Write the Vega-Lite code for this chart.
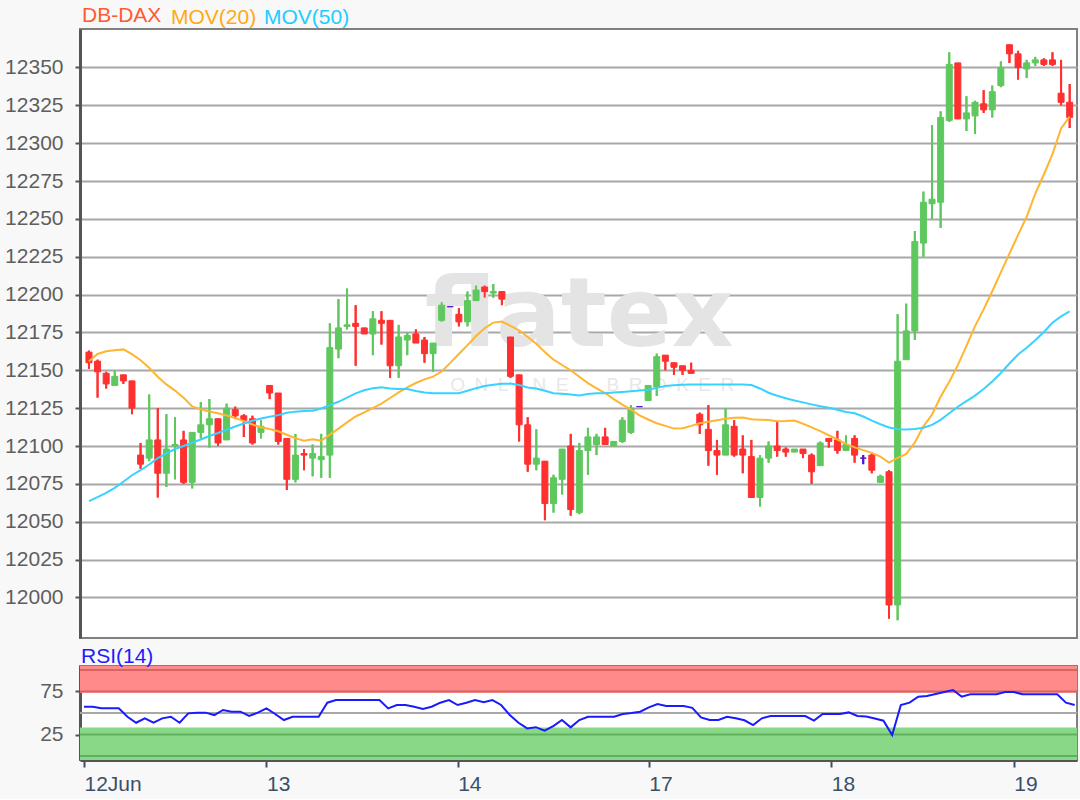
{
  "$schema": "https://vega.github.io/schema/vega-lite/v6.json",
  "background": "#f8f8f8",
  "padding": {"left": 3, "top": 3, "right": 2, "bottom": 4},
  "config": {
    "font": "Liberation Sans",
    "view": {"stroke": "#808080", "strokeWidth": 2, "fill": "white"},
    "axis": {"labelFont": "Liberation Sans", "labelFontSize": 21, "labelColor": "#5e5e5e", "tickColor": "#555555", "tickWidth": 2, "tickSize": 5, "labelPadding": 12, "domainColor": "#555555", "domainWidth": 3, "title": null},
    "title": {"font": "Liberation Sans", "fontSize": 21, "fontWeight": "normal", "anchor": "start", "frame": "group"},
    "concat": {"spacing": 6}
  },
  "datasets": {
    "bars": [
      {"t":0,"o":12162,"h":12163,"l":12151,"c":12155,"m20":12156,"m50":12063.6,"rsi":57.3},
      {"t":1,"o":12156,"h":12157,"l":12132,"c":12149,"m20":12160.8,"m50":12066.3,"rsi":57.3},
      {"t":2,"o":12148,"h":12149,"l":12138,"c":12141,"m20":12162.6,"m50":12069.1,"rsi":55.4},
      {"t":3,"o":12140,"h":12150,"l":12140,"c":12146,"m20":12163.2,"m50":12072.4,"rsi":55.4},
      {"t":4,"o":12147,"h":12147,"l":12141,"c":12143,"m20":12163.8,"m50":12076.4,"rsi":55.4},
      {"t":5,"o":12143,"h":12143,"l":12121,"c":12125,"m20":12160.7,"m50":12080.7,"rsi":45.7},
      {"t":6,"o":12094,"h":12102,"l":12085,"c":12088,"m20":12156.6,"m50":12084,"rsi":38.7},
      {"t":7,"o":12092,"h":12134,"l":12090,"c":12104,"m20":12151.7,"m50":12087.8,"rsi":43.8},
      {"t":8,"o":12104,"h":12125,"l":12066,"c":12082,"m20":12145.7,"m50":12092,"rsi":38.7},
      {"t":9,"o":12082,"h":12121,"l":12073,"c":12098,"m20":12140.7,"m50":12095.2,"rsi":43.8},
      {"t":10,"o":12100,"h":12119,"l":12078,"c":12101,"m20":12136.6,"m50":12098,"rsi":45.7},
      {"t":11,"o":12104,"h":12110,"l":12075,"c":12076,"m20":12131.8,"m50":12100,"rsi":38.7},
      {"t":12,"o":12076,"h":12109,"l":12072,"c":12109,"m20":12126.1,"m50":12102.2,"rsi":49.6},
      {"t":13,"o":12109,"h":12129,"l":12105,"c":12114,"m20":12124.2,"m50":12104.3,"rsi":50.4},
      {"t":14,"o":12114,"h":12131,"l":12099,"c":12118,"m20":12122.8,"m50":12106.6,"rsi":50.4},
      {"t":15,"o":12118,"h":12118,"l":12100,"c":12102,"m20":12121.6,"m50":12108.6,"rsi":47.6},
      {"t":16,"o":12104,"h":12128,"l":12104,"c":12125,"m20":12120.2,"m50":12110.7,"rsi":53.5},
      {"t":17,"o":12124,"h":12126,"l":12118,"c":12120,"m20":12118.5,"m50":12112.9,"rsi":51.5},
      {"t":18,"o":12120,"h":12121,"l":12106,"c":12117,"m20":12116.4,"m50":12114.9,"rsi":51.5},
      {"t":19,"o":12118,"h":12120,"l":12101,"c":12102,"m20":12114.2,"m50":12116.7,"rsi":46.5},
      {"t":20,"o":12109,"h":12117,"l":12105,"c":12113,"m20":12112.4,"m50":12118.1,"rsi":50.4},
      {"t":21,"o":12140,"h":12140,"l":12131,"c":12135,"m20":12111.2,"m50":12119.3,"rsi":55.4},
      {"t":22,"o":12135,"h":12135,"l":12101,"c":12103,"m20":12109.7,"m50":12120.4,"rsi":48.8},
      {"t":23,"o":12105,"h":12105,"l":12071,"c":12078,"m20":12107.4,"m50":12121.9,"rsi":41.8},
      {"t":24,"o":12078,"h":12108,"l":12076,"c":12094,"m20":12105.1,"m50":12122.7,"rsi":45.7},
      {"t":25,"o":12095,"h":12098,"l":12084,"c":12094,"m20":12103.5,"m50":12123.1,"rsi":45.7},
      {"t":26,"o":12092,"h":12101,"l":12080,"c":12095,"m20":12104.5,"m50":12123.3,"rsi":45.7},
      {"t":27,"o":12091,"h":12108,"l":12079,"c":12093,"m20":12103.5,"m50":12124.8,"rsi":45.7},
      {"t":28,"o":12094,"h":12181,"l":12079,"c":12165,"m20":12107.5,"m50":12127,"rsi":62},
      {"t":29,"o":12164,"h":12197,"l":12158,"c":12178,"m20":12111.5,"m50":12129.2,"rsi":65.1},
      {"t":30,"o":12179,"h":12204,"l":12177,"c":12180,"m20":12115.6,"m50":12132,"rsi":65.1},
      {"t":31,"o":12181,"h":12193,"l":12153,"c":12179,"m20":12119.5,"m50":12134.8,"rsi":65.1},
      {"t":32,"o":12178,"h":12178,"l":12174,"c":12174,"m20":12122.2,"m50":12136.8,"rsi":65.1},
      {"t":33,"o":12174,"h":12189,"l":12160,"c":12184,"m20":12125,"m50":12138.1,"rsi":65.1},
      {"t":34,"o":12183,"h":12189,"l":12167,"c":12181,"m20":12128,"m50":12138.8,"rsi":65.1},
      {"t":35,"o":12183,"h":12183,"l":12145,"c":12153,"m20":12131.7,"m50":12138,"rsi":55.4},
      {"t":36,"o":12153,"h":12180,"l":12145,"c":12172,"m20":12135.4,"m50":12137.7,"rsi":59.3},
      {"t":37,"o":12170,"h":12175,"l":12160,"c":12173,"m20":12138.7,"m50":12137.7,"rsi":59.3},
      {"t":38,"o":12174,"h":12177,"l":12168,"c":12168,"m20":12141.6,"m50":12136.3,"rsi":57.3},
      {"t":39,"o":12170,"h":12172,"l":12155,"c":12161,"m20":12144,"m50":12135.3,"rsi":54.6},
      {"t":40,"o":12161,"h":12168,"l":12149,"c":12168,"m20":12145.8,"m50":12134.9,"rsi":57.3},
      {"t":41,"o":12183,"h":12195,"l":12182,"c":12193,"m20":12149.2,"m50":12134.9,"rsi":62},
      {"t":42,"o":12192,"h":12192,"l":12192,"c":12192,"m20":12154.9,"m50":12134.9,"rsi":65.1},
      {"t":43,"o":12187,"h":12191,"l":12179,"c":12182,"m20":12160.8,"m50":12134.9,"rsi":59.3},
      {"t":44,"o":12182,"h":12202,"l":12179,"c":12196,"m20":12166.6,"m50":12136.5,"rsi":62},
      {"t":45,"o":12196,"h":12206,"l":12196,"c":12203,"m20":12172.6,"m50":12138.2,"rsi":65.1},
      {"t":46,"o":12205,"h":12206,"l":12198,"c":12202,"m20":12177.8,"m50":12139.6,"rsi":62.4},
      {"t":47,"o":12201,"h":12207,"l":12198,"c":12202,"m20":12181.5,"m50":12140.4,"rsi":65.1},
      {"t":48,"o":12202,"h":12202,"l":12193,"c":12197,"m20":12182.2,"m50":12141.1,"rsi":59.3},
      {"t":49,"o":12172,"h":12172,"l":12145,"c":12146,"m20":12179.3,"m50":12141.2,"rsi":47.6},
      {"t":50,"o":12147,"h":12147,"l":12103,"c":12114,"m20":12176.4,"m50":12140.3,"rsi":38.7},
      {"t":51,"o":12114,"h":12119,"l":12083,"c":12088,"m20":12172,"m50":12138.7,"rsi":32.1},
      {"t":52,"o":12088,"h":12111,"l":12084,"c":12092,"m20":12167.5,"m50":12138,"rsi":33.5},
      {"t":53,"o":12090,"h":12090,"l":12051,"c":12062,"m20":12162,"m50":12136.5,"rsi":29.4},
      {"t":54,"o":12062,"h":12081,"l":12056,"c":12079,"m20":12157,"m50":12134.9,"rsi":34.8},
      {"t":55,"o":12078,"h":12098,"l":12068,"c":12098,"m20":12153.5,"m50":12134.5,"rsi":41.8},
      {"t":56,"o":12100,"h":12108,"l":12054,"c":12058,"m20":12150,"m50":12134,"rsi":33.3},
      {"t":57,"o":12056,"h":12102,"l":12055,"c":12097,"m20":12145.7,"m50":12133.4,"rsi":41.8},
      {"t":58,"o":12097,"h":12112,"l":12081,"c":12106,"m20":12141.5,"m50":12134.4,"rsi":45.7},
      {"t":59,"o":12101,"h":12108,"l":12094,"c":12106,"m20":12138,"m50":12134.9,"rsi":45.7},
      {"t":60,"o":12106,"h":12112,"l":12101,"c":12101,"m20":12135,"m50":12134.9,"rsi":45.7},
      {"t":61,"o":12100,"h":12103,"l":12100,"c":12103,"m20":12131,"m50":12135.3,"rsi":45.7},
      {"t":62,"o":12103,"h":12119,"l":12102,"c":12117,"m20":12127.3,"m50":12135.7,"rsi":48.8},
      {"t":63,"o":12109,"h":12127,"l":12108,"c":12125,"m20":12124,"m50":12136.2,"rsi":50},
      {"t":64,"o":12126,"h":12126,"l":12126,"c":12126,"m20":12120.2,"m50":12136.6,"rsi":51.5},
      {"t":65,"o":12130,"h":12140,"l":12130,"c":12140,"m20":12117.5,"m50":12137.1,"rsi":56.6},
      {"t":66,"o":12139,"h":12161,"l":12133,"c":12159,"m20":12115,"m50":12138.4,"rsi":60.4},
      {"t":67,"o":12160,"h":12160,"l":12150,"c":12156,"m20":12113.3,"m50":12139.6,"rsi":58.1},
      {"t":68,"o":12155,"h":12155,"l":12147,"c":12152,"m20":12111.5,"m50":12140.2,"rsi":58.1},
      {"t":69,"o":12153,"h":12153,"l":12147,"c":12150,"m20":12111.8,"m50":12140.5,"rsi":58.1},
      {"t":70,"o":12150,"h":12155,"l":12148,"c":12148,"m20":12113.3,"m50":12140.6,"rsi":56},
      {"t":71,"o":12121,"h":12122,"l":12108,"c":12114,"m20":12115,"m50":12140.6,"rsi":44.9},
      {"t":72,"o":12111,"h":12127,"l":12087,"c":12097,"m20":12116,"m50":12140.6,"rsi":41.8},
      {"t":73,"o":12097,"h":12104,"l":12081,"c":12094,"m20":12117,"m50":12140.6,"rsi":41.8},
      {"t":74,"o":12094,"h":12125,"l":12094,"c":12114,"m20":12118,"m50":12140.6,"rsi":45.7},
      {"t":75,"o":12113,"h":12117,"l":12093,"c":12094,"m20":12118.7,"m50":12140.6,"rsi":43.8},
      {"t":76,"o":12098,"h":12107,"l":12082,"c":12094,"m20":12118.8,"m50":12140.6,"rsi":41.5},
      {"t":77,"o":12093,"h":12104,"l":12066,"c":12066,"m20":12117.7,"m50":12140.3,"rsi":36},
      {"t":78,"o":12066,"h":12094,"l":12060,"c":12092,"m20":12117.4,"m50":12138,"rsi":43.8},
      {"t":79,"o":12092,"h":12103,"l":12089,"c":12100,"m20":12117.2,"m50":12135.2,"rsi":46.5},
      {"t":80,"o":12100,"h":12116,"l":12093,"c":12097,"m20":12116.4,"m50":12133.2,"rsi":46.5},
      {"t":81,"o":12098,"h":12099,"l":12093,"c":12096,"m20":12116.5,"m50":12131.5,"rsi":46.5},
      {"t":82,"o":12096,"h":12098,"l":12096,"c":12098,"m20":12116.8,"m50":12130.1,"rsi":46.5},
      {"t":83,"o":12098,"h":12098,"l":12092,"c":12095,"m20":12114.7,"m50":12128.8,"rsi":46.5},
      {"t":84,"o":12094,"h":12095,"l":12075,"c":12083,"m20":12112.3,"m50":12127.5,"rsi":41.1},
      {"t":85,"o":12087,"h":12103,"l":12087,"c":12102,"m20":12109.8,"m50":12126.3,"rsi":48.8},
      {"t":86,"o":12105,"h":12105,"l":12099,"c":12103,"m20":12107.1,"m50":12125.2,"rsi":48.8},
      {"t":87,"o":12104,"h":12110,"l":12095,"c":12097,"m20":12104.3,"m50":12123.9,"rsi":48.8},
      {"t":88,"o":12097,"h":12107,"l":12097,"c":12101,"m20":12101.4,"m50":12122.4,"rsi":50.7},
      {"t":89,"o":12105,"h":12107,"l":12089,"c":12094,"m20":12099.1,"m50":12121.6,"rsi":46.5},
      {"t":90,"o":12092,"h":12094,"l":12088,"c":12092,"m20":12097.3,"m50":12119.5,"rsi":46},
      {"t":91,"o":12094,"h":12095,"l":12082,"c":12084,"m20":12095.5,"m50":12116.8,"rsi":43.5},
      {"t":92,"o":12076,"h":12081,"l":12076,"c":12080,"m20":12093,"m50":12114.4,"rsi":41.1},
      {"t":93,"o":12083,"h":12084,"l":11986,"c":11995,"m20":12089,"m50":12112.2,"rsi":24.4},
      {"t":94,"o":11995,"h":12187,"l":11985,"c":12156,"m20":12092.2,"m50":12111.1,"rsi":59.3},
      {"t":95,"o":12157,"h":12194,"l":12157,"c":12176,"m20":12094.8,"m50":12110.9,"rsi":62},
      {"t":96,"o":12176,"h":12242,"l":12170,"c":12235,"m20":12102.3,"m50":12111.2,"rsi":69},
      {"t":97,"o":12234,"h":12268,"l":12225,"c":12261,"m20":12113,"m50":12112.1,"rsi":69.7},
      {"t":98,"o":12260,"h":12312,"l":12250,"c":12263,"m20":12120.8,"m50":12113.9,"rsi":72},
      {"t":99,"o":12261,"h":12321,"l":12244,"c":12317,"m20":12132.5,"m50":12117.3,"rsi":74.5},
      {"t":100,"o":12315,"h":12360,"l":12314,"c":12352,"m20":12142.5,"m50":12121.6,"rsi":76.7},
      {"t":101,"o":12353,"h":12353,"l":12316,"c":12316,"m20":12153.4,"m50":12125.9,"rsi":69},
      {"t":102,"o":12316,"h":12331,"l":12308,"c":12320,"m20":12166.1,"m50":12129.6,"rsi":71.7},
      {"t":103,"o":12318,"h":12328,"l":12306,"c":12327,"m20":12179.2,"m50":12133.3,"rsi":71.7},
      {"t":104,"o":12326,"h":12335,"l":12320,"c":12322,"m20":12190.2,"m50":12137.6,"rsi":71.7},
      {"t":105,"o":12322,"h":12338,"l":12317,"c":12334,"m20":12202.2,"m50":12142.6,"rsi":71.7},
      {"t":106,"o":12338,"h":12354,"l":12337,"c":12350,"m20":12214.7,"m50":12148.2,"rsi":74.4},
      {"t":107,"o":12365,"h":12365,"l":12353,"c":12359,"m20":12227.1,"m50":12154.5,"rsi":74.4},
      {"t":108,"o":12359,"h":12361,"l":12342,"c":12350,"m20":12239.4,"m50":12160.4,"rsi":71.7},
      {"t":109,"o":12349,"h":12355,"l":12343,"c":12353,"m20":12251.4,"m50":12164.9,"rsi":71.7},
      {"t":110,"o":12353,"h":12357,"l":12351,"c":12355,"m20":12266.7,"m50":12169.9,"rsi":71.7},
      {"t":111,"o":12355,"h":12356,"l":12351,"c":12352,"m20":12279.3,"m50":12175.3,"rsi":71.7},
      {"t":112,"o":12355,"h":12360,"l":12351,"c":12352,"m20":12292.8,"m50":12181.4,"rsi":71.7},
      {"t":113,"o":12333,"h":12355,"l":12325,"c":12327,"m20":12309.7,"m50":12185.6,"rsi":62},
      {"t":114,"o":12327,"h":12339,"l":12310,"c":12317,"m20":12317.5,"m50":12188.9,"rsi":59.3}
    ]
  },
  "vconcat": [
    {
      "width": 997,
      "height": 609,
      "title": {"text": "DB-DAX", "color": "#ff5a32", "offset": 3.5, "dx": 2},
      "data": {"name": "bars"},
      "layer": [
        {
          "mark": {"type": "rule", "strokeWidth": 2},
          "encoding": {
            "x": {"field": "t", "type": "quantitative", "scale": {"domain": [-0.46, 114.27], "nice": false, "zero": false}, "axis": null},
            "y": {"field": "l", "type": "quantitative", "scale": {"domain": [11973.2, 12375.4], "nice": false, "zero": false},
                  "axis": {"values": [12000, 12025, 12050, 12075, 12100, 12125, 12150, 12175, 12200, 12225, 12250, 12275, 12300, 12325, 12350], "format": "d", "grid": true, "gridColor": "#a8a8a8", "gridWidth": 2}},
            "y2": {"field": "h"},
            "color": {"condition": [{"test": "datum.c > datum.o", "value": "#5ec85e"}, {"test": "datum.c < datum.o", "value": "#ff3030"}], "value": "#4a1ccc"}
          }
        },
        {
          "data": {"values": [{}]},
          "mark": {"type": "text", "text": "flatex", "font": "DejaVu Sans", "fontWeight": "bold", "fontSize": 96, "color": "#e4e4e4", "baseline": "alphabetic", "align": "center"},
          "encoding": {
            "x": {"datum": 57, "type": "quantitative"},
            "y": {"datum": 12166, "type": "quantitative"}
          }
        },
        {
          "data": {"values": [{}]},
          "mark": {"type": "text", "text": "O\u2002N\u2002L\u2002I\u2002N\u2002E\u2003\u2003B\u2002R\u2002O\u2002K\u2002E\u2002R", "font": "Liberation Sans", "fontSize": 19, "color": "#e8e8e8", "baseline": "middle", "align": "center"},
          "encoding": {
            "x": {"datum": 58.5, "type": "quantitative"},
            "y": {"datum": 12140, "type": "quantitative"}
          }
        },
        {
          "mark": {"type": "rule", "strokeWidth": 2},
          "encoding": {
            "x": {"field": "t", "type": "quantitative"},
            "y": {"field": "l", "type": "quantitative"},
            "y2": {"field": "h"},
            "color": {"condition": [{"test": "datum.c > datum.o", "value": "#5ec85e"}, {"test": "datum.c < datum.o", "value": "#ff3030"}], "value": "#4a1ccc"}
          }
        },
        {
          "mark": {"type": "bar", "size": 6, "strokeWidth": 1},
          "encoding": {
            "x": {"field": "t", "type": "quantitative"},
            "y": {"field": "o", "type": "quantitative"},
            "y2": {"field": "c"},
            "fill": {"condition": [{"test": "datum.c > datum.o", "value": "#5ec85e"}, {"test": "datum.c < datum.o", "value": "#ff3030"}], "value": "#4a1ccc"},
            "stroke": {"condition": [{"test": "datum.c > datum.o", "value": "#5ec85e"}, {"test": "datum.c < datum.o", "value": "#ff3030"}], "value": "#4a1ccc"}
          }
        },
        {
          "mark": {"type": "line", "strokeWidth": 2},
          "encoding": {
            "x": {"field": "t", "type": "quantitative"},
            "y": {"field": "m20", "type": "quantitative"},
            "color": {"datum": "MOV(20)", "type": "nominal", "scale": {"range": ["#ffb530"]},
                      "legend": {"orient": "none", "legendX": 70, "legendY": -22, "title": null, "labelFontSize": 21, "labelFont": "Liberation Sans", "labelColor": "#ffaa14", "symbolSize": 0, "symbolStrokeWidth": 0, "symbolOpacity": 0, "labelOffset": 0, "padding": 0}}
          }
        },
        {
          "mark": {"type": "line", "strokeWidth": 2},
          "encoding": {
            "x": {"field": "t", "type": "quantitative"},
            "y": {"field": "m50", "type": "quantitative"},
            "stroke": {"datum": "MOV(50)", "type": "nominal", "scale": {"range": ["#38d2ff"]},
                       "legend": {"orient": "none", "legendX": 163, "legendY": -22, "title": null, "labelFontSize": 21, "labelFont": "Liberation Sans", "labelColor": "#22ccff", "symbolSize": 0, "symbolStrokeWidth": 0, "symbolOpacity": 0, "labelOffset": 0, "padding": 0}}
          }
        }
      ]
    },
    {
      "width": 997,
      "height": 94,
      "title": {"text": "RSI(14)", "color": "#1c1cff", "offset": -1, "dx": 1},
      "data": {"name": "bars"},
      "layer": [
        {
          "data": {"values": [{}]},
          "mark": {"type": "rect", "color": "#ff8a8a"},
          "encoding": {
            "y": {"datum": 73.5, "type": "quantitative", "scale": {"domain": [-4.65, 104.65], "nice": false, "zero": false},
                  "axis": {"values": [25, 75], "grid": false}},
            "y2": {"datum": 104.65}
          }
        },
        {
          "data": {"values": [{}]},
          "mark": {"type": "rect", "color": "#88d888"},
          "encoding": {
            "y": {"datum": -4.65, "type": "quantitative"},
            "y2": {"datum": 33}
          }
        },
        {
          "data": {"values": [{}]},
          "mark": {"type": "rule", "color": "#d86464", "strokeWidth": 2},
          "encoding": {"y": {"datum": 100, "type": "quantitative"}}
        },
        {
          "data": {"values": [{}]},
          "mark": {"type": "rule", "color": "#d86464", "strokeWidth": 2},
          "encoding": {"y": {"datum": 75, "type": "quantitative"}}
        },
        {
          "data": {"values": [{}]},
          "mark": {"type": "rule", "color": "#60b060", "strokeWidth": 2},
          "encoding": {"y": {"datum": 25, "type": "quantitative"}}
        },
        {
          "data": {"values": [{}]},
          "mark": {"type": "rule", "color": "#60b060", "strokeWidth": 2},
          "encoding": {"y": {"datum": 0, "type": "quantitative"}}
        },
        {
          "data": {"values": [{}]},
          "mark": {"type": "rule", "color": "#a8a8a8", "strokeWidth": 2},
          "encoding": {"y": {"datum": 50, "type": "quantitative"}}
        },
        {
          "mark": {"type": "line", "color": "#1a1aff", "strokeWidth": 2},
          "encoding": {
            "x": {"field": "t", "type": "quantitative", "scale": {"domain": [-0.46, 114.27], "nice": false, "zero": false},
                  "axis": {"values": [0, 21, 43, 65, 86, 107], "labelExpr": "datum.value == 0 ? '12Jun' : datum.value == 21 ? '13' : datum.value == 43 ? '14' : datum.value == 65 ? '17' : datum.value == 86 ? '18' : '19'", "labelAlign": "left", "labelFlush": false, "labelOverlap": false, "labelColor": "#3a5068", "tickColor": "#3a5068", "tickSize": 7, "labelPadding": 6, "grid": false}},
            "y": {"field": "rsi", "type": "quantitative"}
          }
        }
      ]
    }
  ]
}
